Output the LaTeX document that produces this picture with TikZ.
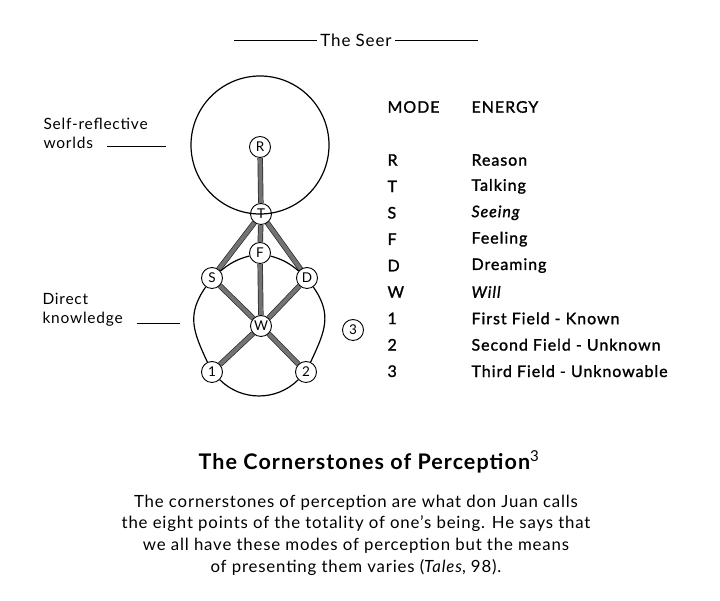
\documentclass[tikz,border=0pt]{standalone}
\usepackage{fontspec}
\setmainfont{Lato}[LetterSpace=5]
\newfontfamily\tablefont{Lato}[LetterSpace=6, FakeBold=1.3, ItalicFeatures={FakeBold=1.3}]
\usetikzlibrary{positioning}
\usetikzlibrary{backgrounds}

\begin{document}
\begin{tikzpicture}
        [
            x=1pt, y=1pt,
            stone/.style={circle, draw, line width=0.9pt, fill=white, inner sep=0pt, minimum size=21pt, font=\fontsize{13.5}{13.5}\selectfont},
            link/.style={draw=black!85, line width=0.7pt, double=black!55, double distance=4pt},
            rim/.style={draw, line width=1.2pt},
            rule/.style={draw, line width=0.6pt},
            row/.style={anchor=west, font=\tablefont\fontsize{16}{16}\selectfont},
            side/.style={anchor=west, align=left, font=\fontsize{15.5}{19}\selectfont}
        ]
        \useasboundingbox (0,0) rectangle (720,601);
        %nodes
        \node[stone] at (260,454)       (R)     {R};
        \node[stone] at (261,387)       (T)     {T};
        \node[stone] at (260,348)       (F)     {F};
        \node[stone] at (212,323)       (S)     {S};
        \node[stone] at (307,323)       (D)     {D};
        \node[stone] at (261,275)       (W)     {W};
        \node[stone] at (212,229)       (one)   {1};
        \node[stone] at (306,229)       (two)   {2};
        \node[stone] at (353,271)       (three) {3};
        \node[circle, rim, minimum size=138pt, inner sep=0pt] at (260,456) (world) {};
        %labels
        \node[font=\fontsize{17}{17}\selectfont] at (356,561)  (seer)   {The Seer};
        \coordinate (seer_l) at (234,561);
        \coordinate (seer_r) at (478,561);
        \node[side] at (40,468)         (self)      {Self-reflective\\worlds};
        \coordinate (self_start) at (107,455);
        \coordinate (self_end) at (166,455);
        \node[side] at (39,291)         (direct)    {Direct\\knowledge};
        \coordinate (direct_start) at (137,278);
        \coordinate (direct_end) at (180,278);
        \node[row] at (384,494)         (mode)      {MODE};
        \node[row] at (468,494)         (energy)    {ENERGY};
        \foreach \m/\e [count=\i] in {R/Reason, T/Talking, S/\textit{Seeing}, F/Feeling, D/Dreaming,
                W/\textit{Will}, 1/First Field - Known, 2/Second Field - Unknown, 3/Third Field - Unknowable}
        {
            \node[row] at (384,{441-(\i-1)*26.4})   (mode_\i)   {\m};
            \node[row] at (468,{441-(\i-1)*26.4})   (energy_\i) {\e};
        }
        \node[font=\bfseries\fontsize{21.5}{21.5}\selectfont] at (369,139) (title)
            {The Cornerstones of Perception\textsuperscript{\mdseries 3}};
        \node[align=center, font=\fontsize{16.8}{21.6}\selectfont] at (356,66) (text)
            {The cornerstones of perception are what don Juan calls\\
             the eight points of the totality of one’s being. He says that\\
             we all have these modes of perception but the means\\
             of presenting them varies (\textit{Tales}, 98).};
        %arrows
        \begin{scope}[on background layer]
            \draw[link] (R) -- (T);
            \draw[link] (T) -- (S);
            \draw[link] (T) -- (F);
            \draw[link] (T) -- (D);
            \draw[link] (F) -- (W);
            \draw[link] (S) -- (W);
            \draw[link] (D) -- (W);
            \draw[link] (W) -- (one);
            \draw[link] (W) -- (two);
            \draw[rim] (S) to[out=235, in=115, looseness=1.15] (one);
            \draw[rim] (one) to[out=-45, in=225] (two);
            \draw[rim] (two) to[out=65, in=-55, looseness=1.15] (D);
            \draw[rim] (D) to[bend right=12] (F);
            \draw[rim] (F) to[bend right=12] (S);
        \end{scope}
        \draw[rule] (seer_l) -- (seer.west);
        \draw[rule] (seer.east) -- (seer_r);
        \draw[rule] (self_start) -- (self_end);
        \draw[rule] (direct_start) -- (direct_end);
    \end{tikzpicture}
\end{document}
